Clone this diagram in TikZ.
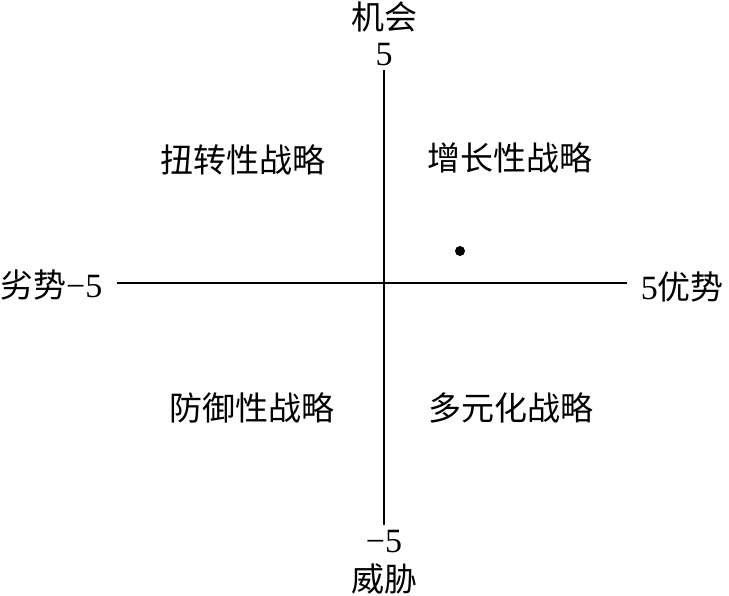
\documentclass[tikz,border=0pt]{standalone}
\usepackage{fontspec}
\setmainfont{Liberation Serif}
\newfontfamily\cjk{Noto Sans CJK SC}
\begin{document}
\begin{tikzpicture}[x=1pt,y=-1pt,
  axis/.style={line width=2.2pt},
  lbl/.style={font=\fontsize{33}{36}\selectfont\cjk, inner sep=0pt},
  num/.style={font=\fontsize{34}{36}\selectfont, inner sep=0pt}]
\useasboundingbox (0,0) rectangle (729,595);
\coordinate (top) at (384,70);
\coordinate (bot) at (384,525);
\coordinate (left) at (117,283);
\coordinate (right) at (627,283);
\draw[axis] (top) -- (bot);
\draw[axis] (left) -- (right);
\node[lbl] (opp) at (384,17) {机会};
\node[num] (p5) at (384,55) {5};
\node[num] (m5) at (384,542) {−5};
\node[lbl] (thr) at (384,579) {威胁};
\node[lbl, anchor=west] (weak) at (0,285) {劣势\fontsize{34}{36}\selectfont\rmfamily −5};
\node[lbl, anchor=east] (str) at (724,287) {{\fontsize{34}{36}\selectfont\rmfamily 5}优势};
\node[lbl] (q2) at (243,160) {扭转性战略};
\node[lbl] (q1) at (510,158) {增长性战略};
\node[lbl] (q3) at (252,408) {防御性战略};
\node[lbl] (q4) at (511,408) {多元化战略};
\fill (460,251) circle (5);
\end{tikzpicture}
\end{document}
